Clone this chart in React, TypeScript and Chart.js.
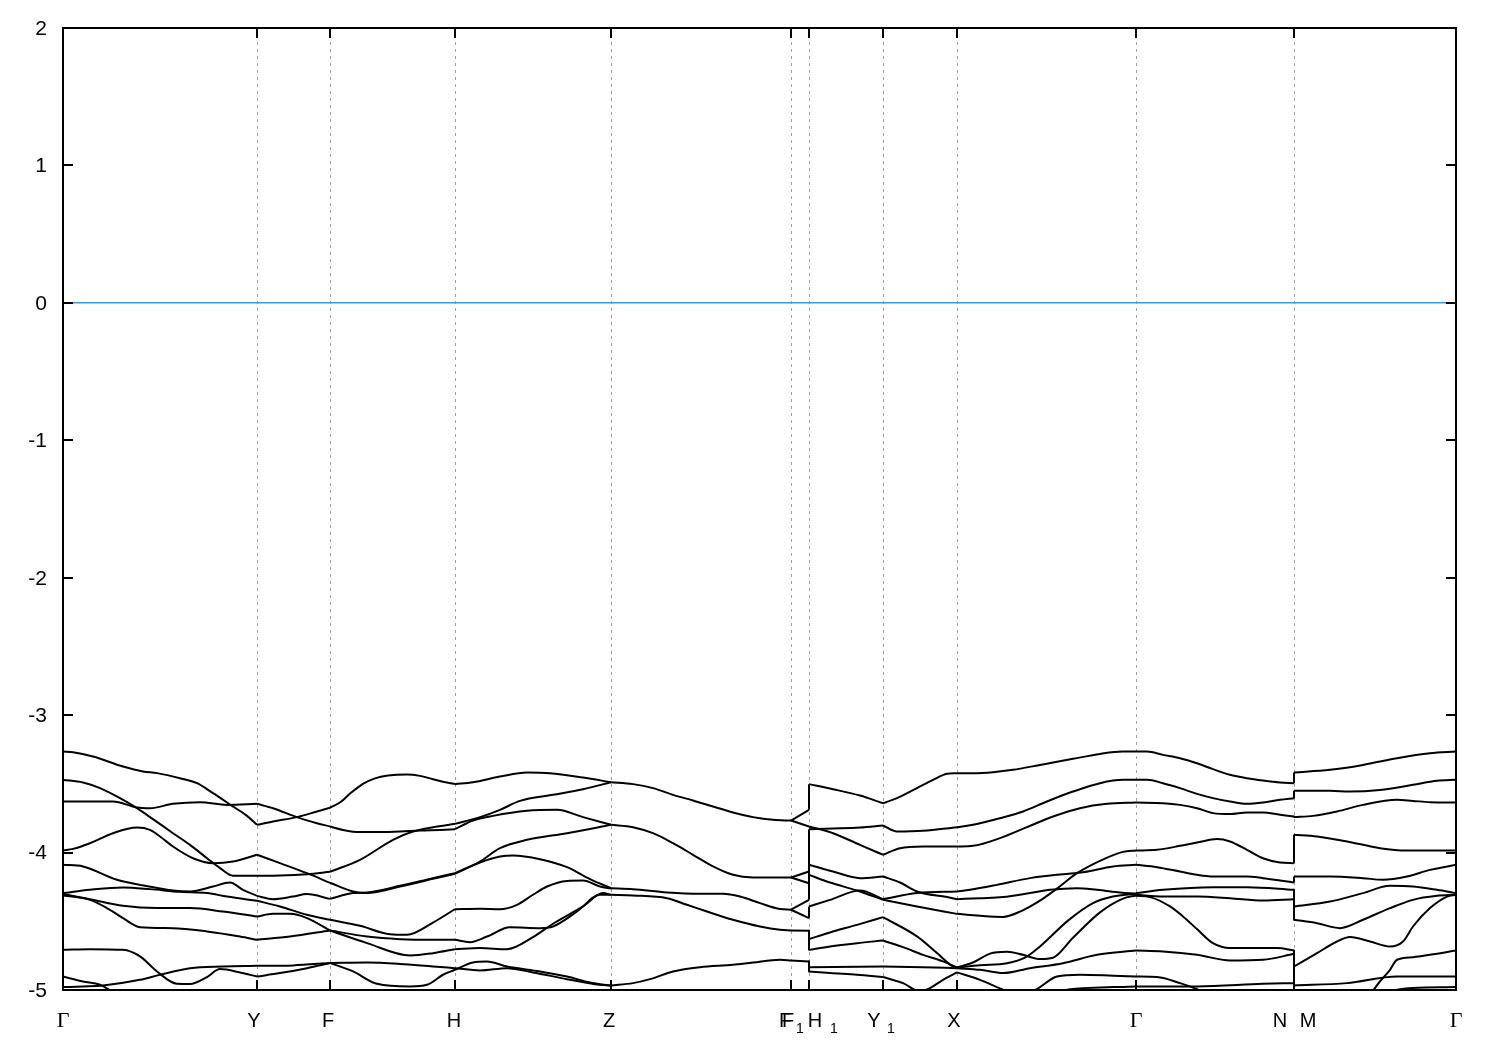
import React, { useEffect, useRef } from 'react';
import { Chart, registerables } from 'chart.js';
Chart.register(...registerables);

type P = [number, number];

const K_MAX = 13.93;
const E_MIN = -5;
const E_MAX = 2;
const FERMI = 0;
const yTicks = [2, 1, 0, -1, -2, -3, -4, -5];
// high-symmetry points along the k-path
const symK = [0, 1.94, 2.67, 3.92, 5.48, 7.28, 7.46, 8.2, 8.94, 10.73, 12.31, 13.93];
const K_H1 = 7.46;
const K_NM = 12.31;

const bandsGammaY: P[][] = [
  [[0,-3.265],[0.10,-3.270],[0.30,-3.301],[0.60,-3.374],[0.80,-3.410],[0.94,-3.422],[1.17,-3.459],[1.34,-3.495],[1.50,-3.568],[1.69,-3.660],[1.84,-3.733],[1.94,-3.798]],
  [[0,-3.628],[0.27,-3.628],[0.50,-3.628],[0.74,-3.672],[0.87,-3.677],[1.10,-3.645],[1.37,-3.633],[1.64,-3.653],[1.94,-3.645]],
  [[0,-3.471],[0.20,-3.490],[0.37,-3.531],[0.57,-3.604],[0.74,-3.677],[0.90,-3.757],[1.10,-3.859],[1.27,-3.944],[1.44,-4.041],[1.57,-4.113],[1.70,-4.169],[1.94,-4.169]],
  [[0,-3.985],[0.10,-3.973],[0.27,-3.932],[0.50,-3.859],[0.74,-3.818],[0.87,-3.835],[0.97,-3.883],[1.10,-3.956],[1.30,-4.041],[1.50,-4.077],[1.70,-4.065],[1.94,-4.016]],
  [[0,-4.089],[0.20,-4.101],[0.54,-4.198],[0.77,-4.235],[1.10,-4.276],[1.27,-4.283],[1.50,-4.247],[1.67,-4.218],[1.80,-4.271],[1.94,-4.315]],
  [[0,-4.295],[0.27,-4.271],[0.60,-4.254],[0.87,-4.266],[1.17,-4.286],[1.44,-4.295],[1.64,-4.320],[1.94,-4.351]],
  [[0,-4.302],[0.27,-4.339],[0.60,-4.387],[0.94,-4.404],[1.27,-4.404],[1.60,-4.429],[1.94,-4.465]],
  [[0,-4.312],[0.27,-4.344],[0.44,-4.404],[0.60,-4.477],[0.77,-4.543],[1.10,-4.550],[1.44,-4.574],[1.77,-4.611],[1.94,-4.635]],
  [[0,-4.708],[0.27,-4.703],[0.60,-4.708],[0.77,-4.756],[0.94,-4.865],[1.14,-4.955],[1.27,-4.957],[1.44,-4.906],[1.57,-4.848],[1.77,-4.872],[1.94,-4.902]],
  [[0,-4.902],[0.20,-4.938],[0.37,-4.962],[0.49,-5.010],[0.60,-5.047]],
  [[0,-4.979],[0.20,-4.974],[0.40,-4.967],[0.77,-4.926],[0.97,-4.889],[1.27,-4.841],[1.60,-4.829],[1.94,-4.824]],
];

const bandsYF: P[][] = [
  [[1.94,-3.798],[2.10,-3.774],[2.34,-3.742],[2.54,-3.701],[2.67,-3.674]],
  [[1.94,-3.645],[2.10,-3.677],[2.34,-3.742],[2.54,-3.786],[2.67,-3.810]],
  [[1.94,-4.169],[2.17,-4.167],[2.44,-4.157],[2.67,-4.140]],
  [[1.94,-4.016],[2.17,-4.077],[2.44,-4.150],[2.67,-4.220]],
  [[1.94,-4.315],[2.10,-4.339],[2.30,-4.320],[2.44,-4.302],[2.67,-4.337]],
  [[1.94,-4.351],[2.17,-4.392],[2.44,-4.453],[2.67,-4.489]],
  [[1.94,-4.465],[2.10,-4.446],[2.27,-4.446],[2.44,-4.477],[2.67,-4.567]],
  [[1.94,-4.635],[2.27,-4.611],[2.67,-4.567]],
  [[1.94,-4.902],[2.17,-4.877],[2.44,-4.841],[2.67,-4.803]],
  [[1.94,-4.824],[2.30,-4.821],[2.67,-4.803]],
];

const bandsFH: P[][] = [
  [[2.67,-3.674],[2.78,-3.630],[2.88,-3.565],[3.00,-3.500],[3.12,-3.460],[3.25,-3.440],[3.44,-3.432],[3.57,-3.442],[3.70,-3.466],[3.84,-3.490],[3.92,-3.502]],
  [[2.67,-3.810],[2.80,-3.835],[2.97,-3.851],[3.17,-3.851],[3.37,-3.847],[3.57,-3.839],[3.77,-3.835],[3.92,-3.830]],
  [[2.67,-4.140],[2.97,-4.053],[3.30,-3.907],[3.50,-3.847],[3.70,-3.815],[3.92,-3.791]],
  [[2.67,-4.220],[2.90,-4.283],[3.04,-4.295],[3.37,-4.247],[3.70,-4.191],[3.92,-4.155]],
  [[2.67,-4.337],[2.90,-4.295],[3.04,-4.290],[3.37,-4.242],[3.70,-4.186],[3.92,-4.150]],
  [[2.67,-4.489],[2.97,-4.533],[3.27,-4.594],[3.44,-4.598],[3.70,-4.509],[3.92,-4.412]],
  [[2.67,-4.567],[3.04,-4.611],[3.37,-4.630],[3.70,-4.635],[3.92,-4.635]],
  [[2.67,-4.567],[3.04,-4.659],[3.47,-4.749],[3.70,-4.732],[3.92,-4.703]],
  [[2.67,-4.803],[3.04,-4.800],[3.37,-4.810],[3.70,-4.829],[3.92,-4.841]],
  [[2.67,-4.803],[2.90,-4.865],[3.14,-4.955],[3.47,-4.974],[3.64,-4.962],[3.80,-4.889],[3.92,-4.853]],
];

const bandsHZ: P[][] = [
  [[3.92,-3.502],[4.10,-3.488],[4.37,-3.447],[4.64,-3.417],[4.87,-3.422],[5.20,-3.454],[5.48,-3.488]],
  [[3.92,-3.791],[4.17,-3.742],[4.37,-3.689],[4.57,-3.624],[4.90,-3.580],[5.20,-3.539],[5.48,-3.488]],
  [[3.92,-3.830],[4.10,-3.767],[4.30,-3.733],[4.64,-3.696],[4.94,-3.689],[5.20,-3.742],[5.48,-3.798]],
  [[3.92,-4.155],[4.17,-4.065],[4.37,-3.968],[4.64,-3.907],[5.04,-3.859],[5.48,-3.798]],
  [[3.92,-4.150],[4.17,-4.072],[4.37,-4.029],[4.50,-4.021],[4.77,-4.048],[5.04,-4.106],[5.27,-4.193],[5.48,-4.259]],
  [[3.92,-4.412],[4.17,-4.409],[4.37,-4.412],[4.54,-4.380],[4.70,-4.307],[4.84,-4.247],[5.04,-4.206],[5.20,-4.203],[5.37,-4.247],[5.48,-4.262]],
  [[3.92,-4.635],[4.07,-4.652],[4.24,-4.611],[4.47,-4.543],[4.77,-4.550],[4.90,-4.538],[5.14,-4.429],[5.37,-4.307],[5.48,-4.307]],
  [[3.92,-4.703],[4.17,-4.695],[4.44,-4.703],[4.70,-4.615],[4.90,-4.518],[5.20,-4.392],[5.40,-4.295],[5.48,-4.307]],
  [[3.92,-4.841],[4.17,-4.858],[4.44,-4.841],[4.70,-4.872],[5.04,-4.921],[5.37,-4.962],[5.48,-4.967]],
  [[3.92,-4.853],[4.10,-4.800],[4.24,-4.793],[4.44,-4.829],[4.77,-4.865],[5.04,-4.902],[5.27,-4.945],[5.48,-4.970]],
];

const bandsZF1: P[][] = [
  [[5.48,-3.488],[5.70,-3.502],[5.90,-3.531],[6.10,-3.580],[6.30,-3.621],[6.50,-3.665],[6.70,-3.708],[6.90,-3.742],[7.10,-3.762],[7.28,-3.767]],
  [[5.48,-3.798],[5.70,-3.815],[5.90,-3.859],[6.10,-3.932],[6.30,-4.016],[6.50,-4.101],[6.70,-4.162],[6.90,-4.181],[7.10,-4.181],[7.28,-4.181]],
  [[5.48,-4.259],[5.70,-4.266],[6.04,-4.290],[6.37,-4.300],[6.60,-4.300],[6.77,-4.320],[6.97,-4.368],[7.17,-4.411],[7.28,-4.416]],
  [[5.48,-4.307],[5.70,-4.312],[6.04,-4.332],[6.24,-4.380],[6.44,-4.429],[6.70,-4.489],[6.97,-4.538],[7.17,-4.562],[7.28,-4.567]],
  [[5.48,-4.967],[5.70,-4.950],[5.87,-4.921],[6.10,-4.865],[6.37,-4.834],[6.70,-4.817],[6.90,-4.800],[7.17,-4.780],[7.28,-4.785]],
];

const bandsF1H1: P[][] = [
  [[7.28,-3.767],[7.46,-3.689]],
  [[7.28,-3.767],[7.46,-3.810]],
  [[7.28,-4.181],[7.46,-4.138]],
  [[7.28,-4.181],[7.46,-4.223]],
  [[7.28,-4.416],[7.46,-4.344]],
  [[7.28,-4.416],[7.46,-4.477]],
  [[7.28,-4.567],[7.46,-4.569]],
  [[7.28,-4.785],[7.46,-4.792]],
];

// band energies just before / after the discontinuity at H1
const jumpsH1: P[] = [
  [-3.689,-3.502],[-3.810,-3.810],[-4.138,-3.830],[-4.223,-4.089],[-4.344,-4.162],
  [-4.477,-4.392],[-4.569,-4.630],[-4.569,-4.708],[-4.792,-4.834],[-4.792,-4.865],
];

const bandsH1Y1: P[][] = [
  [[7.46,-3.502],[7.70,-3.539],[7.97,-3.585],[8.20,-3.641]],
  [[7.46,-3.830],[7.70,-3.825],[7.97,-3.818],[8.20,-3.803]],
  [[7.46,-3.810],[7.70,-3.859],[7.97,-3.944],[8.20,-4.016]],
  [[7.46,-4.089],[7.70,-4.138],[7.97,-4.186],[8.20,-4.174]],
  [[7.46,-4.162],[7.67,-4.218],[7.94,-4.276],[8.20,-4.344]],
  [[7.46,-4.392],[7.67,-4.344],[7.97,-4.276],[8.20,-4.339]],
  [[7.46,-4.630],[7.67,-4.581],[7.94,-4.526],[8.20,-4.470]],
  [[7.46,-4.708],[7.67,-4.683],[7.94,-4.659],[8.20,-4.640]],
  [[7.46,-4.834],[8.20,-4.829]],
  [[7.46,-4.865],[7.67,-4.877],[7.94,-4.889],[8.20,-4.906]],
];

const bandsY1X: P[][] = [
  [[8.20,-3.641],[8.34,-3.604],[8.54,-3.531],[8.70,-3.471],[8.84,-3.427],[8.94,-3.422]],
  [[8.20,-3.803],[8.34,-3.847],[8.60,-3.842],[8.94,-3.815]],
  [[8.20,-4.016],[8.37,-3.968],[8.60,-3.956],[8.94,-3.956]],
  [[8.20,-4.174],[8.37,-4.218],[8.54,-4.283],[8.84,-4.324],[8.94,-4.339]],
  [[8.20,-4.344],[8.54,-4.392],[8.94,-4.446]],
  [[8.20,-4.339],[8.54,-4.295],[8.94,-4.283]],
  [[8.20,-4.470],[8.54,-4.610],[8.74,-4.731],[8.90,-4.829],[8.94,-4.838]],
  [[8.20,-4.640],[8.40,-4.688],[8.60,-4.744],[8.80,-4.792],[8.94,-4.836]],
  [[8.20,-4.829],[8.60,-4.834],[8.94,-4.841]],
  [[8.20,-4.906],[8.40,-4.950],[8.57,-5.010],[8.67,-4.986],[8.80,-4.926],[8.94,-4.872]],
];

const bandsXGamma: P[][] = [
  [[8.94,-3.422],[9.10,-3.422],[9.30,-3.415],[9.50,-3.398],[9.77,-3.362],[10.10,-3.318],[10.37,-3.282],[10.60,-3.265],[10.73,-3.265]],
  [[8.94,-3.815],[9.10,-3.798],[9.37,-3.750],[9.60,-3.701],[9.84,-3.628],[10.10,-3.556],[10.37,-3.495],[10.60,-3.471],[10.73,-3.471]],
  [[8.94,-3.956],[9.10,-3.951],[9.37,-3.895],[9.64,-3.815],[9.90,-3.738],[10.17,-3.677],[10.44,-3.645],[10.73,-3.636]],
  [[8.94,-4.339],[9.17,-4.332],[9.40,-4.324],[9.67,-4.295],[9.87,-4.271],[10.14,-4.259],[10.34,-4.271],[10.57,-4.290],[10.73,-4.300]],
  [[8.94,-4.283],[9.07,-4.271],[9.34,-4.235],[9.67,-4.186],[10.00,-4.157],[10.20,-4.143],[10.50,-4.101],[10.73,-4.089]],
  [[8.94,-4.446],[9.17,-4.460],[9.40,-4.468],[9.57,-4.430],[9.77,-4.350],[9.94,-4.262],[10.14,-4.150],[10.37,-4.060],[10.60,-3.995],[10.73,-3.985]],
  [[8.94,-4.836],[9.10,-4.800],[9.27,-4.735],[9.44,-4.722],[9.60,-4.744],[9.77,-4.775],[9.90,-4.765],[10.10,-4.620],[10.37,-4.435],[10.60,-4.335],[10.73,-4.312]],
  [[8.94,-4.836],[9.17,-4.820],[9.44,-4.805],[9.62,-4.765],[9.77,-4.683],[10.05,-4.495],[10.30,-4.368],[10.50,-4.320],[10.73,-4.300]],
  [[8.94,-4.841],[9.17,-4.853],[9.40,-4.877],[9.67,-4.841],[10.00,-4.805],[10.34,-4.744],[10.73,-4.713]],
  [[8.94,-4.872],[9.17,-4.926],[9.40,-4.998],[9.54,-5.035]],
  [[9.30,-5.040],[9.40,-5.010],[9.67,-5.010],[9.94,-4.902],[10.17,-4.889],[10.50,-4.896],[10.73,-4.902]],
  [[9.90,-5.030],[10.00,-5.003],[10.50,-4.979],[10.73,-4.974]],
];

const bandsGammaN: P[][] = [
  [[10.73,-3.265],[10.84,-3.265],[11.00,-3.289],[11.17,-3.313],[11.34,-3.350],[11.50,-3.393],[11.67,-3.434],[11.84,-3.459],[12.00,-3.476],[12.17,-3.490],[12.31,-3.495]],
  [[10.73,-3.471],[10.84,-3.471],[11.00,-3.495],[11.17,-3.531],[11.34,-3.573],[11.50,-3.604],[11.67,-3.628],[11.84,-3.645],[12.00,-3.636],[12.17,-3.616],[12.31,-3.604]],
  [[10.73,-3.636],[11.00,-3.641],[11.17,-3.653],[11.34,-3.677],[11.50,-3.713],[11.67,-3.720],[11.84,-3.708],[12.00,-3.708],[12.17,-3.725],[12.31,-3.738]],
  [[10.73,-3.985],[10.94,-3.980],[11.17,-3.951],[11.34,-3.927],[11.54,-3.902],[11.67,-3.919],[11.84,-3.980],[12.00,-4.041],[12.17,-4.072],[12.31,-4.077]],
  [[10.73,-4.089],[10.94,-4.106],[11.17,-4.138],[11.34,-4.162],[11.50,-4.174],[11.84,-4.174],[12.00,-4.186],[12.17,-4.203],[12.31,-4.218]],
  [[10.73,-4.295],[11.00,-4.271],[11.50,-4.252],[11.84,-4.252],[12.31,-4.271]],
  [[10.73,-4.307],[11.00,-4.320],[11.34,-4.320],[11.67,-4.332],[12.00,-4.349],[12.31,-4.339]],
  [[10.73,-4.315],[10.87,-4.324],[11.07,-4.392],[11.20,-4.465],[11.34,-4.557],[11.50,-4.659],[11.67,-4.695],[12.14,-4.695],[12.31,-4.713]],
  [[10.73,-4.713],[11.00,-4.720],[11.34,-4.744],[11.67,-4.785],[12.00,-4.780],[12.31,-4.737]],
  [[10.73,-4.902],[10.94,-4.906],[11.17,-4.950],[11.34,-4.994],[11.44,-5.030]],
  [[10.73,-4.974],[11.34,-4.974],[12.00,-4.955],[12.31,-4.950]],
];

// band energies just before / after the discontinuity at N|M
const jumpsNM: P[] = [
  [-3.495,-3.417],[-3.604,-3.551],[-3.738,-3.742],[-4.077,-3.871],[-4.218,-4.174],
  [-4.271,-4.392],[-4.339,-4.489],[-4.713,-4.829],[-4.737,-4.967],[-4.950,-5.050],
];

const bandsMGamma: P[][] = [
  [[12.31,-3.417],[12.67,-3.398],[13.00,-3.362],[13.34,-3.313],[13.67,-3.277],[13.93,-3.265]],
  [[12.31,-3.551],[12.67,-3.551],[12.87,-3.556],[13.17,-3.544],[13.50,-3.507],[13.74,-3.478],[13.93,-3.471]],
  [[12.31,-3.742],[12.50,-3.733],[12.74,-3.701],[13.00,-3.653],[13.34,-3.616],[13.50,-3.624],[13.67,-3.633],[13.93,-3.636]],
  [[12.31,-3.871],[12.54,-3.883],[12.84,-3.919],[13.17,-3.968],[13.44,-3.985],[13.93,-3.985]],
  [[12.31,-4.174],[12.67,-4.174],[13.00,-4.186],[13.20,-4.198],[13.44,-4.174],[13.67,-4.126],[13.93,-4.089]],
  [[12.31,-4.392],[12.67,-4.356],[13.00,-4.295],[13.27,-4.242],[13.50,-4.247],[13.74,-4.271],[13.93,-4.295]],
  [[12.31,-4.489],[12.54,-4.514],[12.77,-4.550],[13.00,-4.489],[13.27,-4.404],[13.50,-4.344],[13.74,-4.315],[13.93,-4.307]],
  [[12.31,-4.829],[12.54,-4.732],[12.74,-4.647],[12.87,-4.615],[13.07,-4.647],[13.27,-4.683],[13.40,-4.647],[13.50,-4.538],[13.67,-4.404],[13.84,-4.320],[13.93,-4.307]],
  [[12.31,-4.967],[12.84,-4.950],[13.34,-4.902],[13.93,-4.902]],
  [[13.07,-5.035],[13.17,-4.938],[13.27,-4.853],[13.34,-4.780],[13.50,-4.761],[13.67,-4.744],[13.93,-4.713]],
  [[13.20,-5.023],[13.34,-4.998],[13.50,-4.986],[13.93,-4.979]],
];

type Part = { t: string; dx: number; sub?: boolean; greek?: boolean };
const xLabels: { k: number; parts: Part[] }[] = [
  { k: symK[0], parts: [{ t: 'Γ', dx: 0, greek: true }] },
  { k: symK[1], parts: [{ t: 'Y', dx: -3 }] },
  { k: symK[2], parts: [{ t: 'F', dx: -2 }] },
  { k: symK[3], parts: [{ t: 'H', dx: -1 }] },
  { k: symK[4], parts: [{ t: 'Z', dx: -2 }] },
  { k: symK[5], parts: [{ t: 'F', dx: -6 }, { t: 'F', dx: -3 }, { t: '1', dx: 9, sub: true }] },
  { k: symK[6], parts: [{ t: 'H', dx: 6 }, { t: '1', dx: 25, sub: true }] },
  { k: symK[7], parts: [{ t: 'Y', dx: -9 }, { t: '1', dx: 8, sub: true }] },
  { k: symK[8], parts: [{ t: 'X', dx: -3 }] },
  { k: symK[9], parts: [{ t: 'Γ', dx: 0, greek: true }] },
  { k: symK[10], parts: [{ t: 'N', dx: -14 }, { t: 'M', dx: 14 }] },
  { k: symK[11], parts: [{ t: 'Γ', dx: 0, greek: true }] },
];

const SANS = '"Liberation Sans", Arial, sans-serif';
const SERIF = '"Liberation Serif", "Times New Roman", serif';

const decor = {
  id: 'decor',
  beforeDatasetsDraw(chart: any) {
    const { ctx, chartArea: a, scales } = chart;
    const x = scales.x;
    ctx.save();
    ctx.strokeStyle = '#a0a0a0';
    ctx.lineWidth = 1;
    ctx.setLineDash([3, 4]);
    symK.forEach((k, i) => {
      if (i === 0 || i === symK.length - 1) return;
      const px = Math.round(x.getPixelForValue(k)) + 0.5;
      ctx.beginPath();
      ctx.moveTo(px, a.top);
      ctx.lineTo(px, a.bottom);
      ctx.stroke();
    });
    ctx.restore();
  },
  afterDraw(chart: any) {
    const { ctx, chartArea: a, scales } = chart;
    const x = scales.x;
    const y = scales.y;
    ctx.save();
    ctx.strokeStyle = '#000';
    ctx.lineWidth = 2;
    ctx.setLineDash([]);
    ctx.strokeRect(a.left, a.top, a.right - a.left, a.bottom - a.top);
    const TL = 10;
    ctx.beginPath();
    yTicks.forEach((v) => {
      const py = Math.round(y.getPixelForValue(v));
      ctx.moveTo(a.left, py);
      ctx.lineTo(a.left + TL, py);
      ctx.moveTo(a.right, py);
      ctx.lineTo(a.right - TL, py);
    });
    symK.forEach((k) => {
      const px = Math.round(x.getPixelForValue(k));
      ctx.moveTo(px, a.bottom);
      ctx.lineTo(px, a.bottom - TL);
      ctx.moveTo(px, a.top);
      ctx.lineTo(px, a.top + TL);
    });
    ctx.stroke();

    ctx.fillStyle = '#000';
    ctx.font = `21px ${SANS}`;
    ctx.textAlign = 'right';
    ctx.textBaseline = 'middle';
    yTicks.forEach((v) => {
      ctx.fillText(String(v), a.left - 16, y.getPixelForValue(v) + 1);
    });

    ctx.textAlign = 'center';
    ctx.textBaseline = 'alphabetic';
    xLabels.forEach((lab) => {
      const px = x.getPixelForValue(lab.k);
      lab.parts.forEach((p) => {
        if (p.sub) {
          ctx.font = `14px ${SANS}`;
          ctx.fillText(p.t, px + p.dx, a.bottom + 43);
        } else if (p.greek) {
          ctx.font = `22px ${SERIF}`;
          ctx.fillText(p.t, px + p.dx, a.bottom + 37);
        } else {
          ctx.font = `20px ${SANS}`;
          ctx.fillText(p.t, px + p.dx, a.bottom + 37);
        }
      });
    });
    ctx.restore();
  },
};

function lineDs(pts: P[], color = '#000', width = 2, smooth = true) {
  return {
    data: pts.map(([k, e]) => ({ x: k, y: e })),
    showLine: true,
    borderColor: color,
    borderWidth: width,
    pointRadius: 0,
    pointHoverRadius: 0,
    fill: false,
    tension: smooth ? 0.4 : 0,
    cubicInterpolationMode: smooth ? 'monotone' : 'default',
    borderJoinStyle: 'round',
  };
}

export default function App() {
  const ref = useRef<HTMLCanvasElement | null>(null);
  useEffect(() => {
    if (!ref.current) return;
    const bands: P[][] = [
      ...bandsGammaY, ...bandsYF, ...bandsFH, ...bandsHZ, ...bandsZF1, ...bandsF1H1,
      ...bandsH1Y1, ...bandsY1X, ...bandsXGamma, ...bandsGammaN, ...bandsMGamma,
    ];
    const jumps: P[][] = [
      ...jumpsH1.map(([a, b]) => [[K_H1, a], [K_H1, b]] as P[]),
      ...jumpsNM.map(([a, b]) => [[K_NM, a], [K_NM, b]] as P[]),
    ];
    const datasets: any[] = [lineDs([[0, FERMI], [K_MAX, FERMI]], '#3a9ad9', 1.5, false)];
    bands.forEach((pts) => datasets.push(lineDs(pts, '#000', 2, pts.length > 2)));
    jumps.forEach((pts) => datasets.push(lineDs(pts, '#000', 2, false)));
    const chart = new Chart(ref.current, {
      type: 'scatter',
      data: { datasets },
      options: {
        responsive: false,
        animation: false,
        events: [],
        layout: { padding: { left: 63, right: 44, top: 28, bottom: 60 } },
        plugins: { legend: { display: false }, tooltip: { enabled: false } },
        scales: {
          x: { type: 'linear', min: 0, max: K_MAX, display: false },
          y: { type: 'linear', min: E_MIN, max: E_MAX, display: false },
        },
      },
      plugins: [decor],
    } as any);
    return () => chart.destroy();
  }, []);
  return (
    <div style={{ position: 'absolute', left: 0, top: 0, width: 1500, height: 1050, background: '#fff' }}>
      <canvas ref={ref} width={1500} height={1050} style={{ display: 'block' }} />
    </div>
  );
}
